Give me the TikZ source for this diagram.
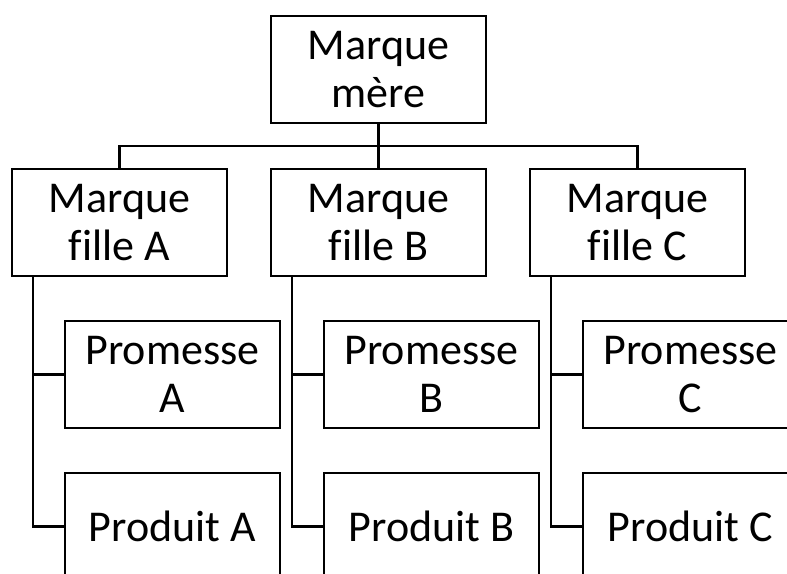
\documentclass[tikz,border=0pt]{standalone}
\usepackage{fontspec}
\setmainfont{Carlito}[Ligatures=NoCommon]
\usetikzlibrary{positioning}

\begin{document}
\begin{tikzpicture}[x=1pt, y=1pt, node distance=45pt, line width=2.8pt,
                    brand/.style={rectangle, draw, outer sep=0pt, inner sep=0pt,
                                  minimum width=215pt, minimum height=107pt,
                                  align=center, font=\fontsize{44}{48}\selectfont}]

  \useasboundingbox (0,0) rectangle (787,573);
  \clip (0,0) rectangle (787,573);

  \node[brand] (mere) at (378.5,503.5) {Marque\\mère};
  \node[brand] (filleB) [below=46pt of mere] {Marque\\fille B};
  \node[brand] (filleA) [left=44pt of filleB] {Marque\\fille A};
  \node[brand] (filleC) [right=44pt of filleB] {Marque\\fille C};

  \node[brand] (promA) [below=45pt of filleA, xshift=53pt] {Promesse\\A};
  \node[brand] (prodA) [below=45pt of promA] {Produit A};
  \node[brand] (promB) [below=45pt of filleB, xshift=53pt] {Promesse\\B};
  \node[brand] (prodB) [below=45pt of promB] {Produit B};
  \node[brand] (promC) [below=45pt of filleC, xshift=53pt] {Promesse\\C};
  \node[brand] (prodC) [below=45pt of promC] {Produit C};

  \coordinate (bus) at ([yshift=-23pt]mere.south);
  \draw (mere.south) -- (filleB.north);
  \draw (bus) -| (filleA.north);
  \draw (bus) -| (filleC.north);

  \foreach \b in {A,B,C} {
    \draw ([xshift=21pt]fille\b.south west) |- (prom\b.west);
    \draw ([xshift=21pt]fille\b.south west) |- (prod\b.west);
  }
\end{tikzpicture}
\end{document}
